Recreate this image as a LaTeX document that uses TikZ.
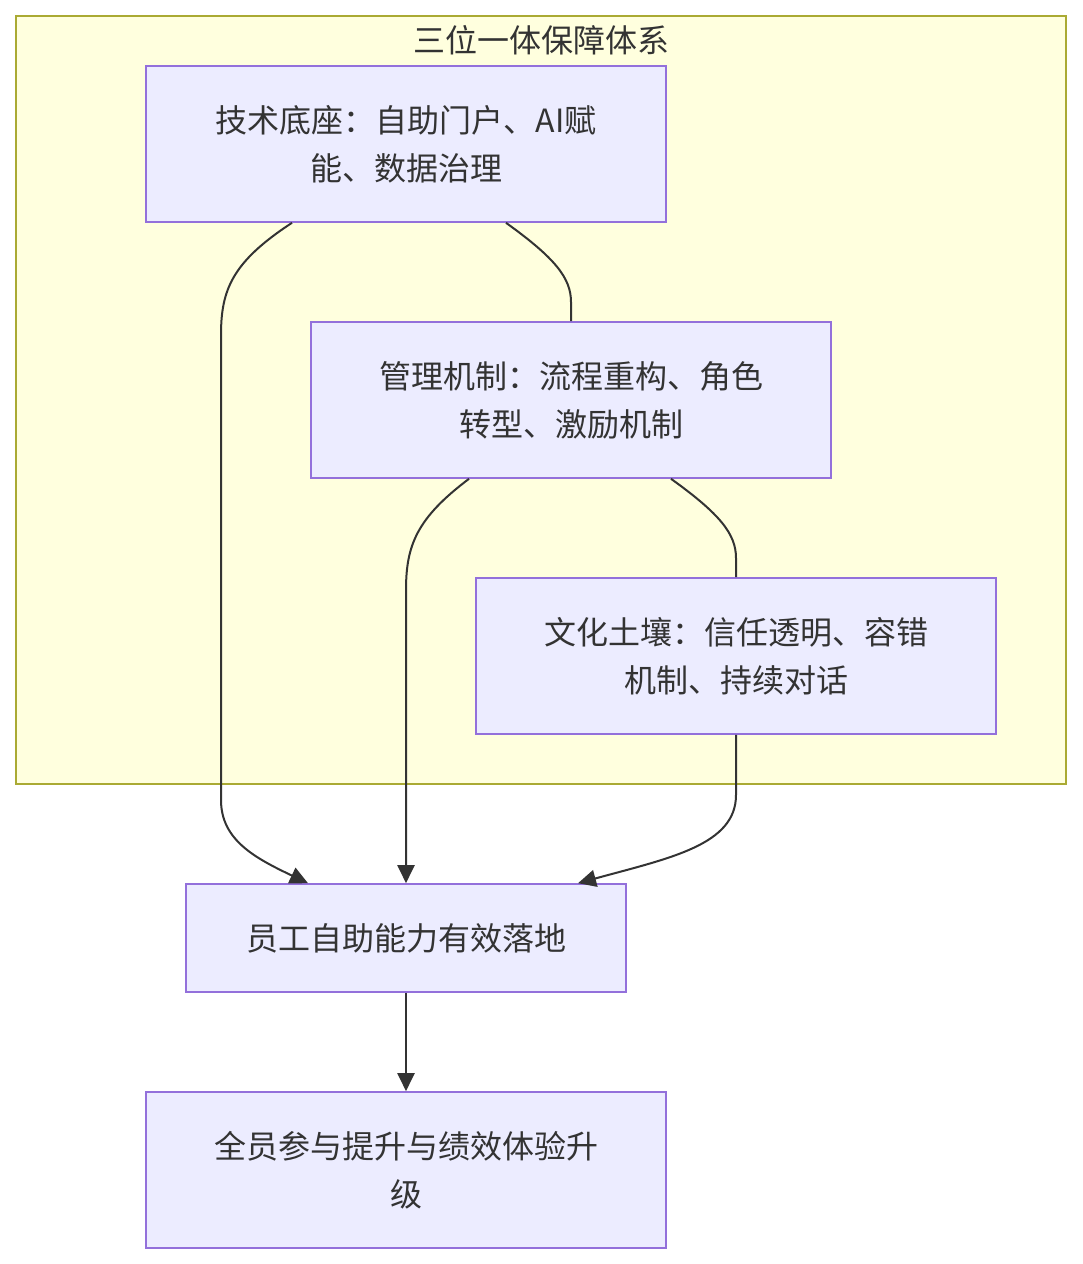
\documentclass[tikz,border=0pt]{standalone}
\usepackage{fontspec}
\setmainfont{Noto Sans CJK SC}
\usetikzlibrary{arrows.meta,calc}
\definecolor{clusterfill}{HTML}{FFFFDE}
\definecolor{clusterdraw}{HTML}{AAAA33}
\definecolor{nodefill}{HTML}{ECECFF}
\definecolor{nodedraw}{HTML}{9370DB}
\definecolor{txt}{HTML}{333333}
\begin{document}
\begin{tikzpicture}[x=1pt,y=-1pt,
  box/.style={draw=nodedraw,fill=nodefill,line width=1.6pt,inner sep=0pt,align=center,
     text=txt,font=\fontsize{32}{48}\selectfont},
  edge/.style={draw=txt,line width=2pt},
  arr/.style={edge,-{Triangle[length=18pt,width=17pt]}}]
\useasboundingbox (0,0) rectangle (1082,1264);
\node[draw=clusterdraw,fill=clusterfill,line width=1.6pt,minimum width=1050pt,minimum height=768pt,inner sep=0pt] (cl) at (541,400) {};
\node[text=txt,font=\fontsize{32}{36}\selectfont] (title) at (541,40) {三位一体保障体系};
\node[box,minimum width=520pt,minimum height=156pt] (A) at (406,144) {技术底座：自助门户、AI赋\\能、数据治理};
\node[box,minimum width=520pt,minimum height=156pt] (B) at (571,400) {管理机制：流程重构、角色\\转型、激励机制};
\node[box,minimum width=520pt,minimum height=156pt] (C) at (736,656) {文化土壤：信任透明、容错\\机制、持续对话};
\node[box,minimum width=440pt,minimum height=108pt] (D) at (406,938) {员工自助能力有效落地};
\node[box,minimum width=520pt,minimum height=156pt] (E) at (406,1170) {全员参与提升与绩效体验升\\级};
% A -> D
\draw[arr] ([xshift=-114pt]A.south) .. controls (232,262) and (221,290) .. (221,335) -- (221,800) .. controls (221,840) and (255,858) .. ([xshift=-98pt]D.north);
% A -> B
\draw[edge] ([xshift=100pt]A.south) .. controls (555,258) and (571,278) .. (571,302) -- (B.north);
% B -> D
\draw[arr] ([xshift=-102pt]B.south) .. controls (417,518) and (406,545) .. (406,590) -- (D.north);
% B -> C
\draw[edge] ([xshift=100pt]B.south) .. controls (720,514) and (736,534) .. (736,558) -- (C.north);
% C -> D
\draw[arr] (C.south) -- (736,795) .. controls (736,845) and (670,858) .. ([xshift=172pt]D.north);
% D -> E
\draw[arr] (D.south) -- (E.north);
\end{tikzpicture}
\end{document}
